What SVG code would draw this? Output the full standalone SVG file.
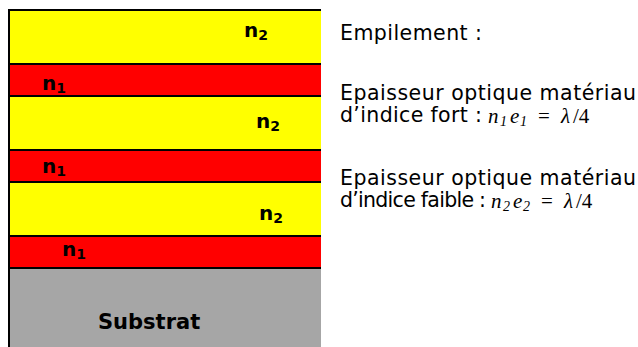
<svg xmlns="http://www.w3.org/2000/svg" width="638" height="347" viewBox="0 0 638 347">
<style>
.y{fill:#ffff00}
.r{fill:#ff0000}
.g{fill:#a6a6a6}
.ln{stroke:#000;stroke-width:2;fill:none}
.lb{font-family:"DejaVu Sans",Verdana,sans-serif;font-weight:bold;font-size:20px;fill:#000}
.sb{font-size:14px}
.tx{font-family:"DejaVu Sans",Verdana,sans-serif;font-size:20.5px;fill:#000}
.m{font-family:"Liberation Serif","Times New Roman",serif;font-style:italic;font-size:21px}
.ms{font-size:14px}
.mu{font-style:normal}
</style>
<rect width="638" height="347" fill="#fff"/>
<g id="layer-n2-top"><rect class="y" x="9" y="10" width="312" height="54"/><text class="lb" x="244" y="37">n<tspan class="sb" dy="3">2</tspan></text></g>
<g id="layer-n1-a"><rect class="r" x="9" y="64" width="312" height="32"/><text class="lb" x="42" y="90">n<tspan class="sb" dy="3">1</tspan></text></g>
<g id="layer-n2-b"><rect class="y" x="9" y="96" width="312" height="54"/><text class="lb" x="256" y="128">n<tspan class="sb" dy="3">2</tspan></text></g>
<g id="layer-n1-b"><rect class="r" x="9" y="150" width="312" height="32"/><text class="lb" x="42" y="173">n<tspan class="sb" dy="3">1</tspan></text></g>
<g id="layer-n2-c"><rect class="y" x="9" y="182" width="312" height="54"/><text class="lb" x="259" y="220">n<tspan class="sb" dy="3">2</tspan></text></g>
<g id="layer-n1-c"><rect class="r" x="9" y="236" width="312" height="32"/><text class="lb" x="62" y="256">n<tspan class="sb" dy="3">1</tspan></text></g>
<g id="substrat"><rect class="g" x="9" y="268" width="312" height="79"/><text class="lb" x="98" y="329" style="font-size:21px">Substrat</text></g>
<g id="lines">
<path class="ln" d="M9,347 V10 H321 M9,64 H321 M9,96 H321 M9,150 H321 M9,182 H321 M9,236 H321 M9,268 H321"/>
</g>
<g id="legend">
<text class="tx" x="340" y="40" textLength="142" lengthAdjust="spacing">Empilement :</text>
<text class="tx" x="340" y="100" textLength="296" lengthAdjust="spacing">Epaisseur optique matériau</text>
<text class="tx" x="340" y="122" textLength="142" lengthAdjust="spacing">d’indice fort :</text>
<text class="m" y="123"><tspan x="488">n</tspan><tspan x="500" dy="3" class="ms">1</tspan><tspan x="510" dy="-3">e</tspan><tspan x="520" dy="3" class="ms">1</tspan><tspan x="538" dy="-3" class="mu">=</tspan><tspan x="561">λ</tspan><tspan x="573" class="mu">/4</tspan></text>
<text class="tx" x="340" y="185" textLength="296" lengthAdjust="spacing">Epaisseur optique matériau</text>
<text class="tx" x="340" y="207" textLength="146" lengthAdjust="spacing">d’indice faible :</text>
<text class="m" y="208"><tspan x="491">n</tspan><tspan x="503" dy="3" class="ms">2</tspan><tspan x="513" dy="-3">e</tspan><tspan x="523" dy="3" class="ms">2</tspan><tspan x="541" dy="-3" class="mu">=</tspan><tspan x="564">λ</tspan><tspan x="576" class="mu">/4</tspan></text>
</g>
</svg>
